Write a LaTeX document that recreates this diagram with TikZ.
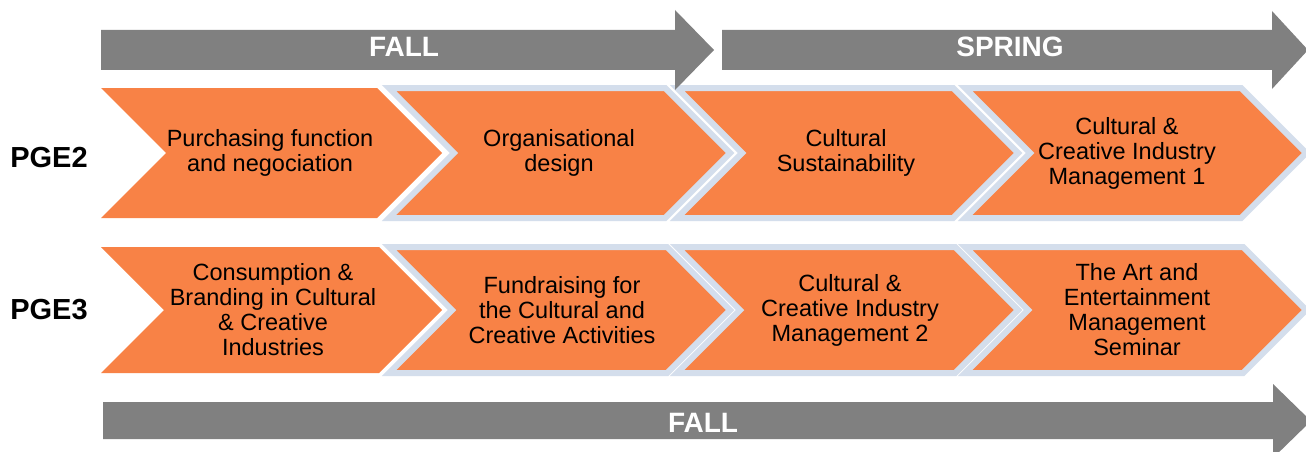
\documentclass[tikz,border=0pt]{standalone}
\usepackage{fontspec}
\setmainfont{Liberation Sans}
\definecolor{chevorange}{RGB}{248,130,70}
\definecolor{bargrey}{RGB}{128,128,128}
\definecolor{glow}{RGB}{212,222,236}
\tikzset{
  chev/.style={fill=chevorange},
  chevb/.style={fill=chevorange,draw=glow,line width=6pt,line join=miter},
  bar/.style={fill=bargrey},
  course/.style={align=center,text=black,font=\fontsize{23.5}{25}\selectfont},
  term/.style={text=white,font=\bfseries\fontsize{28}{30}\selectfont},
  prog/.style={text=black,font=\bfseries\fontsize{29}{30}\selectfont}
}
\begin{document}
\begin{tikzpicture}[x=1pt,y=-1pt]

\clip (0,0) rectangle (1306,452);
\fill[white] (0,0) rectangle (1306,452);

% PGE2 row
\fill[chev] (101,88) -- ++(276,0) -- ++(65,65) -- ++(-65,65) -- ++(-276,0) -- ++(65,-65) -- cycle;
\draw[chevb] (389,88) -- ++(276,0) -- ++(65,65) -- ++(-65,65) -- ++(-276,0) -- ++(65,-65) -- cycle;
\draw[chevb] (677,88) -- ++(276,0) -- ++(65,65) -- ++(-65,65) -- ++(-276,0) -- ++(65,-65) -- cycle;
\draw[chevb] (965,88) -- ++(276,0) -- ++(65,65) -- ++(-65,65) -- ++(-276,0) -- ++(65,-65) -- cycle;

% PGE3 row
\fill[chev] (101,247) -- ++(278,0) -- ++(63,63) -- ++(-63,63) -- ++(-278,0) -- ++(63,-63) -- cycle;
\draw[chevb] (389,247) -- ++(278,0) -- ++(63,63) -- ++(-63,63) -- ++(-278,0) -- ++(63,-63) -- cycle;
\draw[chevb] (677,247) -- ++(278,0) -- ++(63,63) -- ++(-63,63) -- ++(-278,0) -- ++(63,-63) -- cycle;
\draw[chevb] (965,247) -- ++(278,0) -- ++(63,63) -- ++(-63,63) -- ++(-278,0) -- ++(63,-63) -- cycle;

% term arrows
\fill[bar] (101,30) -- (675,30) -- (675,10) -- (714,50) -- (675,90) -- (675,70) -- (101,70) -- cycle;
\fill[bar] (722,30) -- (1272,30) -- (1272,11) -- (1308,50) -- (1272,89) -- (1272,70) -- (722,70) -- cycle;
\fill[bar] (103,402) -- (1273,402) -- (1273,384) -- (1311,421) -- (1273,458) -- (1273,439) -- (103,439) -- cycle;

\node[term] (fall1) at (404,47) {FALL};
\node[term] (spring) at (1010,47) {SPRING};
\node[term] (fall2) at (703,423) {FALL};

\node[prog] (pge2) at (49,158) {PGE2};
\node[prog] (pge3) at (49,310) {PGE3};

\node[course] (purch) at (270,153) {Purchasing function\\and negociation};
\node[course] (orgdes) at (559,153) {Organisational\\design};
\node[course] (sustain) at (846,153) {Cultural\\Sustainability};
\node[course] (ccim1) at (1127,153) {Cultural \&\\Creative Industry\\Management 1};

\node[course] (consum) at (273,310) {Consumption \&\\Branding in Cultural\\\& Creative\\Industries};
\node[course] (fundr) at (562,310) {Fundraising for\\the Cultural and\\Creative Activities};
\node[course] (ccim2) at (850,310) {Cultural \&\\Creative Industry\\Management 2};
\node[course] (artsem) at (1137,310) {The Art and\\Entertainment\\Management\\Seminar};

\end{tikzpicture}
\end{document}
